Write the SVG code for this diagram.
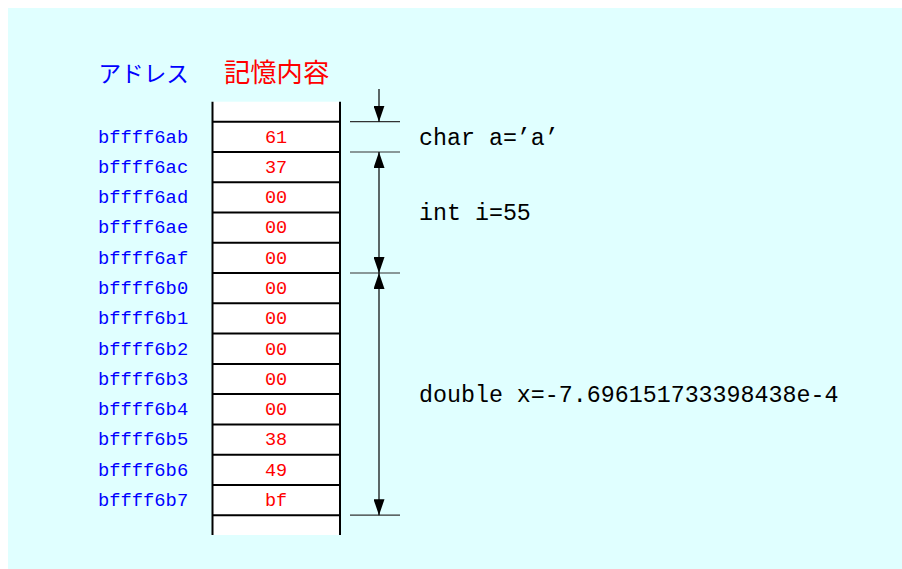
<svg xmlns="http://www.w3.org/2000/svg" width="902" height="569" viewBox="0 0 902 569">
  <style>
    .addr { font-family: "Liberation Mono", "DejaVu Sans Mono", monospace; font-size: 18.8px; fill: #0000ff; }
    .val { font-family: "Liberation Mono", "DejaVu Sans Mono", monospace; font-size: 18.5px; fill: #ff0000; text-anchor: middle; }
    .decl { font-family: "Liberation Mono", "DejaVu Sans Mono", monospace; font-size: 23.3px; fill: #000000; }
    .head { font-family: "Noto Sans CJK JP", "Noto Sans", sans-serif; }
    .rule { stroke: #000000; stroke-width: 2; fill: none; }
    .tick { stroke: #333333; stroke-width: 1.2; fill: none; }
    .dim { stroke: #000000; stroke-width: 1.2; fill: none; }
  </style>
  <defs>
    <marker id="head" viewBox="0 0 16 11" refX="16" refY="5.5" markerWidth="16" markerHeight="11" markerUnits="userSpaceOnUse" orient="auto-start-reverse">
      <path d="M0,0 L16,5.5 L0,11 Z" fill="#000000"/>
    </marker>
  </defs>

  <!-- backdrop -->
  <rect x="0" y="0" width="902" height="569" fill="#ffffff"/>
  <rect x="8" y="8" width="894" height="561" fill="#e0ffff"/>

  <!-- column headings -->
  <g id="heading-address">
    <text class="head" x="98.5" y="81.5" font-size="22.6" fill="#0000ff">アドレス</text>
  </g>
  <g id="heading-content">
    <text class="head" x="224" y="81.5" font-size="26.3" fill="#ff0000">記憶内容</text>
  </g>

  <!-- memory column -->
  <g id="memory">
    <rect x="212.5" y="101.7" width="127.5" height="433.3" fill="#ffffff"/>
    <line class="rule" x1="212.5" y1="101.7" x2="212.5" y2="535"/>
    <line class="rule" x1="340" y1="101.7" x2="340" y2="535"/>
    <line class="rule" x1="212.5" y1="121.7" x2="340" y2="121.7"/>
    <line class="rule" x1="212.5" y1="152.0" x2="340" y2="152.0"/>
    <line class="rule" x1="212.5" y1="182.2" x2="340" y2="182.2"/>
    <line class="rule" x1="212.5" y1="212.5" x2="340" y2="212.5"/>
    <line class="rule" x1="212.5" y1="242.8" x2="340" y2="242.8"/>
    <line class="rule" x1="212.5" y1="273.0" x2="340" y2="273.0"/>
    <line class="rule" x1="212.5" y1="303.3" x2="340" y2="303.3"/>
    <line class="rule" x1="212.5" y1="333.6" x2="340" y2="333.6"/>
    <line class="rule" x1="212.5" y1="363.9" x2="340" y2="363.9"/>
    <line class="rule" x1="212.5" y1="394.1" x2="340" y2="394.1"/>
    <line class="rule" x1="212.5" y1="424.4" x2="340" y2="424.4"/>
    <line class="rule" x1="212.5" y1="454.7" x2="340" y2="454.7"/>
    <line class="rule" x1="212.5" y1="484.9" x2="340" y2="484.9"/>
    <line class="rule" x1="212.5" y1="515.2" x2="340" y2="515.2"/>
  </g>

  <!-- one group per byte: address and stored value -->
  <g id="byte-bffff6ab"><text class="addr" x="98" y="142.6">bffff6ab</text><text class="val" x="276" y="142.6">61</text></g>
  <g id="byte-bffff6ac"><text class="addr" x="98" y="172.9">bffff6ac</text><text class="val" x="276" y="172.9">37</text></g>
  <g id="byte-bffff6ad"><text class="addr" x="98" y="203.1">bffff6ad</text><text class="val" x="276" y="203.1">00</text></g>
  <g id="byte-bffff6ae"><text class="addr" x="98" y="233.4">bffff6ae</text><text class="val" x="276" y="233.4">00</text></g>
  <g id="byte-bffff6af"><text class="addr" x="98" y="263.7">bffff6af</text><text class="val" x="276" y="263.7">00</text></g>
  <g id="byte-bffff6b0"><text class="addr" x="98" y="293.9">bffff6b0</text><text class="val" x="276" y="293.9">00</text></g>
  <g id="byte-bffff6b1"><text class="addr" x="98" y="324.2">bffff6b1</text><text class="val" x="276" y="324.2">00</text></g>
  <g id="byte-bffff6b2"><text class="addr" x="98" y="354.5">bffff6b2</text><text class="val" x="276" y="354.5">00</text></g>
  <g id="byte-bffff6b3"><text class="addr" x="98" y="384.8">bffff6b3</text><text class="val" x="276" y="384.8">00</text></g>
  <g id="byte-bffff6b4"><text class="addr" x="98" y="415.0">bffff6b4</text><text class="val" x="276" y="415.0">00</text></g>
  <g id="byte-bffff6b5"><text class="addr" x="98" y="445.3">bffff6b5</text><text class="val" x="276" y="445.3">38</text></g>
  <g id="byte-bffff6b6"><text class="addr" x="98" y="475.6">bffff6b6</text><text class="val" x="276" y="475.6">49</text></g>
  <g id="byte-bffff6b7"><text class="addr" x="98" y="505.8">bffff6b7</text><text class="val" x="276" y="505.8">bf</text></g>

  <!-- variable declarations -->
  <g id="var-char"><text class="decl" x="419" y="145">char a=’a’</text></g>
  <g id="var-int"><text class="decl" x="419" y="220">int i=55</text></g>
  <g id="var-double"><text class="decl" x="419" y="402">double x=-7.696151733398438e-4</text></g>

  <!-- extent marks and dimension arrows -->
  <g id="connectors">
    <line class="tick" x1="350" y1="121.7" x2="400" y2="121.7"/>
    <line class="tick" x1="350" y1="152.0" x2="400" y2="152.0"/>
    <line class="tick" x1="350" y1="273.0" x2="400" y2="273.0"/>
    <line class="tick" x1="350" y1="515.2" x2="400" y2="515.2"/>
    <line class="dim" x1="379" y1="89" x2="379" y2="121.7" marker-end="url(#head)"/>
    <line class="dim" x1="379" y1="152.0" x2="379" y2="273.0" marker-start="url(#head)" marker-end="url(#head)"/>
    <line class="dim" x1="379" y1="273.0" x2="379" y2="515.2" marker-start="url(#head)" marker-end="url(#head)"/>
  </g>
</svg>
